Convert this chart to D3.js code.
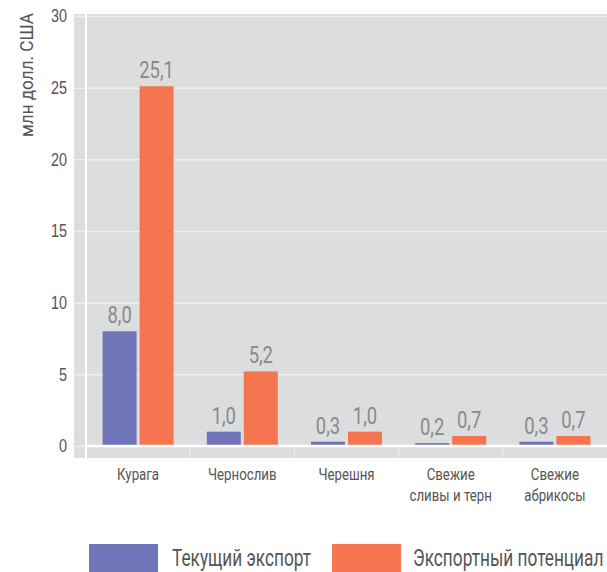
<!DOCTYPE html>
<html>
<head>
<meta charset="utf-8">
<script src="https://cdn.jsdelivr.net/npm/d3@7"></script>
<style>
  html, body { margin: 0; padding: 0; background: #fff; }
  svg { display: block; font-family: "Roboto", "Noto Sans", sans-serif; }
</style>
</head>
<body>
<svg id="chart" width="607" height="572"></svg>
<script>
// Export of dried and fresh stone fruit, mln USD
const categories = [["Курага"], ["Чернослив"], ["Черешня"], ["Свежие", "сливы и терн"], ["Свежие", "абрикосы"]];
const currentExport = [8.0, 1.0, 0.3, 0.2, 0.3];
const exportPotential = [25.1, 5.2, 1.0, 0.7, 0.7];
const seriesNames = ["Текущий экспорт", "Экспортный потенциал"];
const yTicks = [0, 5, 10, 15, 20, 25, 30];

const colors = ["#7074b8", "#f4754f"];
const svg = d3.select("#chart");

const plot = { left: 86, right: 607, top: 16, bottom: 446 };

const x = d3.scaleBand()
  .domain(d3.range(categories.length))
  .range([plot.left, plot.right]);
const y = d3.scaleLinear().domain([0, 30]).range([plot.bottom, plot.top]);

// squeeze glyphs horizontally to get a condensed face
function condense(node, k) {
  const w = node.getComputedTextLength();
  d3.select(node).attr("textLength", w * k).attr("lengthAdjust", "spacingAndGlyphs");
}

// grey panel behind the plot, including the band under the baseline
svg.append("rect")
  .attr("x", 74).attr("y", 14)
  .attr("width", 607 - 74).attr("height", 458 - 14)
  .attr("fill", "#dcdddf");

// horizontal gridlines and tick labels
const yAxis = d3.axisLeft(y).tickValues(yTicks).tickSize(plot.right - 74).tickPadding(7);
const gy = svg.append("g")
  .attr("transform", `translate(${plot.right},0)`)
  .call(yAxis);
gy.select(".domain").remove();
gy.selectAll(".tick line").attr("stroke", "#eef0ea").attr("stroke-width", 1.5);
gy.selectAll(".tick text")
  .attr("fill", "#555").attr("font-size", 18)
  .attr("font-family", "inherit")
  .each(function () { condense(this, 0.8); });

// vertical axis line
svg.append("line")
  .attr("x1", plot.left).attr("x2", plot.left)
  .attr("y1", 14).attr("y2", 458)
  .attr("stroke", "#fff").attr("stroke-width", 2);

// category separators under the baseline
const gx = svg.append("g")
  .attr("transform", `translate(0,${plot.bottom})`);
gx.selectAll("line.sep")
  .data(d3.range(1, categories.length))
  .join("line")
  .attr("x1", i => x(i)).attr("x2", i => x(i))
  .attr("y1", 0).attr("y2", 12)
  .attr("stroke", "#f0f0f0").attr("stroke-width", 1);

// bars
const barW = 34, gap = 3;
const series = [currentExport, exportPotential];
series.forEach((vals, s) => {
  const g = svg.append("g");
  const cx = i => x(i) + x.bandwidth() / 2;
  const bx = i => s === 0 ? cx(i) - gap / 2 - barW : cx(i) + gap / 2;
  g.selectAll("rect")
    .data(vals)
    .join("rect")
    .attr("x", (d, i) => bx(i))
    .attr("y", d => y(d))
    .attr("width", barW)
    .attr("height", d => y(0) - y(d))
    .attr("fill", colors[s]);
  g.selectAll("text")
    .data(vals)
    .join("text")
    .attr("x", (d, i) => bx(i) + barW / 2)
    .attr("y", d => y(d) - 8)
    .attr("text-anchor", "middle")
    .attr("font-size", 23)
    .attr("fill", "#8a8a8a")
    .text(d => d.toFixed(1).replace(".", ","))
    .each(function () { condense(this, 0.8); });
});

// baseline
svg.append("line")
  .attr("x1", plot.left).attr("x2", plot.right)
  .attr("y1", plot.bottom).attr("y2", plot.bottom)
  .attr("stroke", "#fff").attr("stroke-width", 2.5);

// category labels
const labels = svg.append("g");
categories.forEach((lines, i) => {
  lines.forEach((ln, k) => {
    labels.append("text")
      .attr("x", x(i) + x.bandwidth() / 2)
      .attr("y", 480 + k * 21)
      .attr("text-anchor", "middle")
      .attr("font-size", 17)
      .attr("fill", "#555")
      .text(ln)
      .each(function () { condense(this, 0.78); });
  });
});

// axis title
svg.append("text")
  .attr("transform", "translate(33,75) rotate(-90)")
  .attr("text-anchor", "middle")
  .attr("font-size", 19)
  .attr("fill", "#555")
  .text("млн долл. США")
  .each(function () { d3.select(this).attr("textLength", 124).attr("lengthAdjust", "spacingAndGlyphs"); });

// legend
const legend = [
  { x: 89, w: 69, tx: 172 },
  { x: 332, w: 69, tx: 413 }
];
legend.forEach((l, s) => {
  svg.append("rect")
    .attr("x", l.x).attr("y", 544)
    .attr("width", l.w).attr("height", 30)
    .attr("fill", colors[s]);
  svg.append("text")
    .attr("x", l.tx).attr("y", 566)
    .attr("font-size", 23)
    .attr("fill", "#555")
    .text(seriesNames[s])
    .each(function () { condense(this, 0.75); });
});
</script>
</body>
</html>
